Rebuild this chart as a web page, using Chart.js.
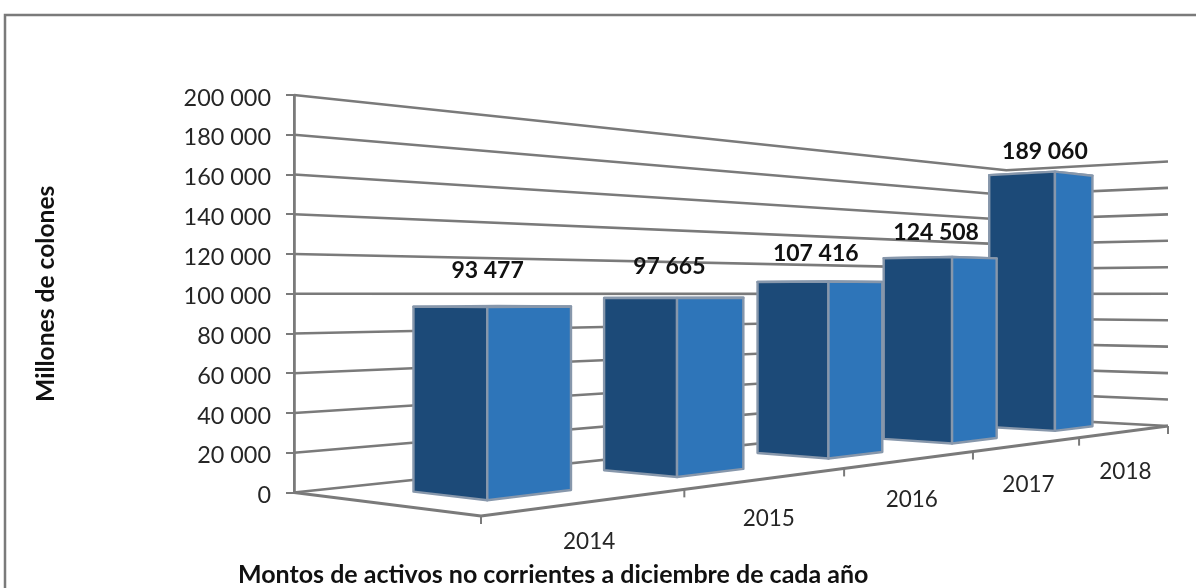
<!DOCTYPE html>
<html>
<head>
<meta charset="utf-8">
<style>
html,body{margin:0;padding:0;background:#fff;width:1196px;height:588px;overflow:hidden}
canvas{display:block;filter:blur(0.5px)}
</style>
<script src="https://cdn.jsdelivr.net/npm/chart.js@4"></script>
</head>
<body>
<canvas id="c" width="1196" height="588"></canvas>
<script>
const years = ['2014', '2015', '2016', '2017', '2018'];
const amounts = [93477, 97665, 107416, 124508, 189060];
const yTitle = 'Millones de colones';
const xTitle = 'Montos de activos no corrientes a diciembre de cada año';

const fmt = n => String(n).replace(/\B(?=(\d{3})+$)/g, ' ');

// Perspective box: the left wall sits on the y scale; the two other floor corners and depth weights set the view.
const view = { front: {x: 481, y: 516}, right: {x: 1168, y: 426}, wFront: 0.8935, wRight: 1.5025 };
const bar = { centre: 0.507, halfWidth: 0.206, t0: 0.3, t1: 0.695 };
const labelShiftX = [-3, -3, -3, -3, 5];
const GREY = '#7a7a7a', EDGE = '#8797ab';
const FONT = 'Lato, Carlito, sans-serif';

function projector(chart) {
  const ys = chart.scales.y, y0 = ys.getPixelForValue(0);
  const L = {x: chart.chartArea.left, y: y0}, F = view.front, R = view.right;
  const wF = view.wFront, wR = view.wRight;
  return (u, t, v) => {
    const s = u / years.length;
    const w = wF + s * (wR - wF) + t * (1 - wF);
    const hx = F.x * wF + s * (R.x * wR - F.x * wF) + t * (L.x - F.x * wF);
    const hy = F.y * wF + s * (R.y * wR - F.y * wF) + t * (L.y - F.y * wF);
    return { x: hx / w, y: (hy - (y0 - ys.getPixelForValue(v))) / w };
  };
}
function poly(ctx, pts, fill, stroke, lw) {
  ctx.beginPath();
  pts.forEach((p, i) => i ? ctx.lineTo(p.x, p.y) : ctx.moveTo(p.x, p.y));
  if (fill) { ctx.closePath(); ctx.fillStyle = fill; ctx.fill(); }
  if (stroke) { ctx.strokeStyle = stroke; ctx.lineWidth = lw; ctx.lineJoin = 'round'; ctx.stroke(); }
}

const box3d = {
  id: 'box3d',
  beforeDraw(chart) {
    const ctx = chart.ctx;
    ctx.save();
    ctx.fillStyle = '#fff';
    ctx.fillRect(0, 0, chart.width, chart.height);
    ctx.strokeStyle = GREY; ctx.lineWidth = 2.5;
    ctx.strokeRect(5, 15, 1300, 800);
    const P = projector(chart);
    // walls
    chart.scales.y.ticks.forEach(tk => {
      poly(ctx, [P(0, 1, tk.value), P(years.length, 1, tk.value), P(years.length, 0, tk.value)], null, GREY, 2.6);
    });
    // floor edges and category ticks
    poly(ctx, [P(0, 1, 0), P(0, 0, 0), P(years.length, 0, 0)], null, GREY, 2.8);
    for (let i = 0; i <= years.length; i++) {
      const p = P(i, 0, 0);
      poly(ctx, [p, {x: p.x, y: p.y + 8}], null, GREY, 2);
    }
    ctx.restore();
  },
  afterDatasetsDraw(chart) {
    const ctx = chart.ctx, P = projector(chart);
    const vals = chart.data.datasets[0].data;
    ctx.save();
    for (let i = vals.length - 1; i >= 0; i--) {
      const v = vals[i], u0 = i + bar.centre - bar.halfWidth, u1 = i + bar.centre + bar.halfWidth;
      const a = P(u0, bar.t1, 0), b = P(u0, bar.t0, 0), c = P(u1, bar.t0, 0);
      const aT = P(u0, bar.t1, v), bT = P(u0, bar.t0, v), cT = P(u1, bar.t0, v), dT = P(u1, bar.t1, v);
      poly(ctx, [aT, bT, cT, dT], '#5b86b5', EDGE, 2.4);
      poly(ctx, [a, b, bT, aT], '#1c4a78', EDGE, 2.4);
      poly(ctx, [b, c, cT, bT], '#2e75b9', EDGE, 2.4);
    }
    // value labels
    ctx.textAlign = 'center'; ctx.textBaseline = 'middle';
    ctx.fillStyle = '#111';
    ctx.font = 'bold 23px ' + FONT;
    vals.forEach((v, i) => {
      const p = P(i + 0.5, 0.5, v + 18000);
      ctx.fillText(fmt(v), p.x + labelShiftX[i], p.y);
    });
    // category labels
    ctx.fillStyle = '#262626';
    ctx.font = '22.5px ' + FONT;
    years.forEach((y, i) => {
      const p = P(i + 0.5, 0, 0);
      ctx.fillText(y, p.x, p.y + 40);
    });
    // bottom axis title
    ctx.fillStyle = '#111';
    ctx.font = 'bold 25px ' + FONT;
    ctx.textAlign = 'left';
    ctx.fillText(xTitle, 238, 575);
    ctx.restore();
  }
};

new Chart(document.getElementById('c'), {
  type: 'bar',
  data: { labels: years, datasets: [{ data: amounts, backgroundColor: 'rgba(0,0,0,0)', borderWidth: 0 }] },
  plugins: [box3d],
  options: {
    responsive: false,
    animation: false,
    layout: { padding: { left: 0, top: 95, right: 28, bottom: 95.5 } },
    plugins: { legend: { display: false }, tooltip: { enabled: false } },
    scales: {
      x: { display: false },
      y: {
        min: 0, max: 200000,
        afterFit(s) { s.width = 294; },
        border: { display: true, color: GREY, width: 2.8 },
        grid: { drawOnChartArea: false, drawTicks: true, tickLength: 8, color: GREY, lineWidth: 2 },
        ticks: {
          stepSize: 20000, padding: 15, labelOffset: 3, color: '#262626',
          font: { family: FONT, size: 23.4 },
          callback: v => fmt(v)
        },
        title: {
          display: true, text: yTitle, color: '#111',
          font: { family: FONT, size: 24.6, weight: 'bold' },
          padding: { top: 31, bottom: 0 }
        }
      }
    }
  }
});
</script>
</body>
</html>
